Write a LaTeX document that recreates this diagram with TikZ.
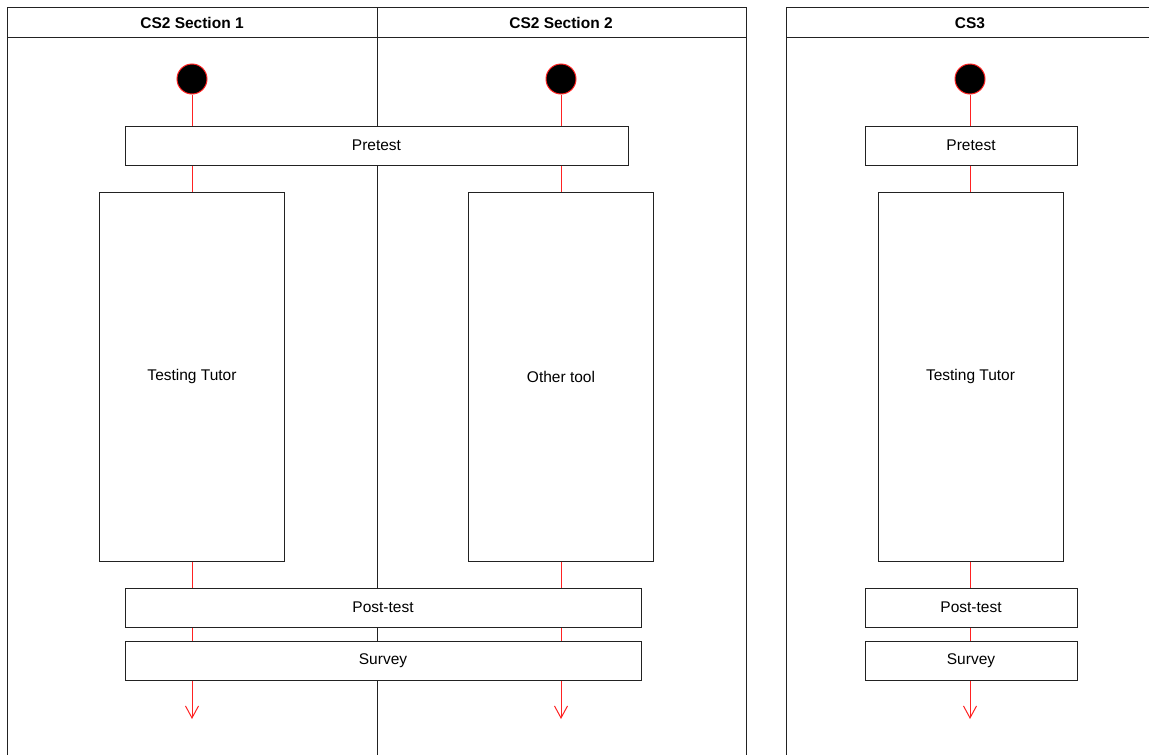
\documentclass[tikz,border=0pt]{standalone}
\usepackage{fontspec}
\setmainfont{Liberation Sans}
\usetikzlibrary{arrows.meta}
\definecolor{frame}{HTML}{222222}
\definecolor{flow}{HTML}{FF2222}
\begin{document}
\begin{tikzpicture}[x=1pt,y=-1pt,
  lane/.style={draw=frame,line width=1pt},
  hdr/.style={font=\fontsize{15.5}{18}\selectfont\bfseries,text=black},
  act/.style={draw=frame,fill=white,line width=1pt,font=\fontsize{15.5}{18}\selectfont,inner sep=0pt},
  start/.style={circle,draw=flow,fill=black,line width=1pt,minimum size=30pt,inner sep=0pt},
  flowline/.style={draw=flow,line width=1pt},
  flowarrow/.style={flowline,-{Straight Barb[length=12pt,width=13pt,line width=1pt]}}
]
\useasboundingbox (0,0) rectangle (1149,755);
\begin{scope}
\clip (0,0) rectangle (1149,755);
% lanes
\draw[lane] (7,770) -- (7,7) -- (746,7) -- (746,770);
\draw[lane] (7,37) -- (746,37);
\draw[lane] (377,7) -- (377,770);
\draw[lane] (786,770) -- (786,7) -- (1160,7);
\draw[lane] (786,37) -- (1160,37);
\end{scope}
\node[hdr] (h1) at (192,23) {CS2 Section 1};
\node[hdr] (h2) at (561,23) {CS2 Section 2};
\node[hdr] (h3) at (970,23) {CS3};
% start nodes
\node[start] (s1) at (192,79) {};
\node[start] (s2) at (561,79) {};
\node[start] (s3) at (970,79) {};
% activities
\node[act,minimum width=503pt,minimum height=39pt] (pre) at (376.5,145.5) {Pretest};
\node[act,minimum width=185pt,minimum height=369pt] (tt1) at (192,376.5) {Testing Tutor};
\node[act,minimum width=185pt,minimum height=369pt] (ot) at (561,376.5) {Other tool};
\node[act,minimum width=516pt,minimum height=39pt] (post) at (383,607.5) {Post-test};
\node[act,minimum width=516pt,minimum height=39pt] (surv) at (383,660.5) {Survey};
\node[act,minimum width=212pt,minimum height=39pt] (pre3) at (971,145.5) {Pretest};
\node[act,minimum width=185pt,minimum height=369pt] (tt3) at (970.5,376.5) {Testing Tutor};
\node[act,minimum width=212pt,minimum height=39pt] (post3) at (971,607.5) {Post-test};
\node[act,minimum width=212pt,minimum height=39pt] (surv3) at (971,660.5) {Survey};
% end coordinates
\coordinate (e1) at (192,719);
\coordinate (e2) at (561,719);
\coordinate (e3) at (970,719);
% flows lane 1
\draw[flowline] (s1) -- (s1 |- pre.north);
\draw[flowline] (s1 |- pre.south) -- (tt1.north);
\draw[flowline] (tt1.south) -- (tt1.south |- post.north);
\draw[flowline] (tt1.south |- post.south) -- (tt1.south |- surv.north);
\draw[flowarrow] (tt1.south |- surv.south) -- (e1);
% flows lane 2
\draw[flowline] (s2) -- (s2 |- pre.north);
\draw[flowline] (s2 |- pre.south) -- (ot.north);
\draw[flowline] (ot.south) -- (ot.south |- post.north);
\draw[flowline] (ot.south |- post.south) -- (ot.south |- surv.north);
\draw[flowarrow] (ot.south |- surv.south) -- (e2);
% flows lane 3
\draw[flowline] (s3) -- (s3 |- pre3.north);
\draw[flowline] (s3 |- pre3.south) -- (s3 |- tt3.north);
\draw[flowline] (s3 |- tt3.south) -- (s3 |- post3.north);
\draw[flowline] (s3 |- post3.south) -- (s3 |- surv3.north);
\draw[flowarrow] (s3 |- surv3.south) -- (e3);
\end{tikzpicture}
\end{document}
